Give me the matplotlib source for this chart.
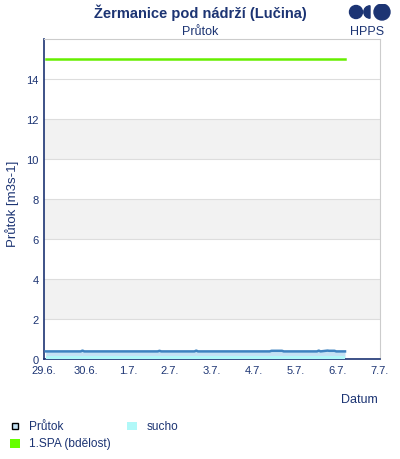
import matplotlib
matplotlib.use("Agg")
import matplotlib.pyplot as plt
import numpy as np
from matplotlib.patches import Circle, Rectangle, Wedge

plt.rcParams['font.family'] = ['Liberation Sans', 'DejaVu Sans']

# hours since 29.6. 00:00
flow_hours = [1, 12, 21, 22, 23, 40, 65, 66, 67, 86, 87, 88, 110, 129, 130, 136, 137, 138, 150, 156, 157, 158, 160, 162, 163, 166, 167, 172]
flow_vals = [0.38, 0.38, 0.38, 0.42, 0.38, 0.38, 0.38, 0.41, 0.38, 0.38, 0.42, 0.38, 0.38, 0.38, 0.41, 0.41, 0.38, 0.38, 0.38, 0.38, 0.42, 0.38, 0.40, 0.42, 0.41, 0.41, 0.38, 0.38]
sucho_level = 0.15
spa1_level = 15.0
x_ticks = ['29.6.', '30.6.', '1.7.', '2.7.', '3.7.', '4.7.', '5.7.', '6.7.', '7.7.']

navy = '#1c3473'
fig = plt.figure(figsize=(4.0, 4.6), dpi=100)
ax = fig.add_axes([44/400, 1-360/460, 336/400, 320/460])

t = np.array(flow_hours) / 24.0
v = np.array(flow_vals)
ax.fill_between(t, 0, v, color='#c4e2f4', lw=0, zorder=2)
ax.fill_between([t[0], t[-1]], 0, sucho_level, color='#b0f8f8', lw=0, zorder=3)
ax.plot(t, v, color='#3d82c0', lw=1.8, zorder=4)
ax.plot([t[0], t[-1]], [spa1_level, spa1_level], color='#66ee00', lw=1.8, zorder=4)

ax.set_xlim(0, 8)
ax.set_ylim(0, 16)
for y0 in [2, 6, 10]:
    ax.axhspan(y0, y0 + 2, color='#f2f2f2', lw=0, zorder=0)
ax.set_yticks(range(0, 15, 2))
ax.set_xticks(range(9))
ax.set_xticklabels(x_ticks)
ax.yaxis.grid(True, color='#dddddd', lw=0.8, zorder=1)
ax.set_axisbelow(True)
ax.tick_params(axis='both', length=0, labelsize=8, colors=navy, pad=4)
for s in ['top', 'right']:
    ax.spines[s].set_color('#cccccc')
    ax.spines[s].set_linewidth(0.8)
for s in ['left', 'bottom']:
    ax.spines[s].set_color(navy)
    ax.spines[s].set_linewidth(1.2)

fig.text(12/400, 1-204/460, 'Průtok [m3s-1]', rotation=90, ha='center', va='center', color=navy, fontsize=9.5)
fig.text(378/400, 1-400/460, 'Datum', ha='right', va='center', color=navy, fontsize=9)
fig.text(200/400, 1-13/460, 'Žermanice pod nádrží (Lučina)', ha='center', va='center', color=navy, fontsize=10.5, fontweight='bold')
fig.text(200/400, 1-32/460, 'Průtok', ha='center', va='center', color=navy, fontsize=9)

# logo
fig.text(367/400, 1-32/460, 'HPPS', ha='center', va='center', color=navy, fontsize=9)
la = fig.add_axes([345/400, 1-25/460, 55/400, 20/460])
la.set_xlim(345, 400); la.set_ylim(25, 5); la.axis('off')
la.add_patch(Circle((356, 13), 6.5, color=navy))
la.add_patch(Wedge((370, 13), 6.2, 90, 270, color=navy))
la.add_patch(Circle((382, 13), 8.0, color=navy))

# legend
lg = fig.add_axes([0, 0, 1, 1]); lg.set_xlim(0, 400); lg.set_ylim(460, 0); lg.axis('off')
lg.add_patch(Rectangle((12, 424), 6, 6, facecolor='#c4e2f4', edgecolor='black', lw=1))
lg.text(29, 427, 'Průtok', color=navy, fontsize=8.6, va='center')
lg.add_patch(Rectangle((127, 423), 10, 8, facecolor='#b0f8f8', edgecolor='none'))
lg.text(147, 427, 'sucho', color=navy, fontsize=8.6, va='center')
lg.add_patch(Rectangle((10, 440), 10, 9, facecolor='#66ff00', edgecolor='none'))
lg.text(29, 444, '1.SPA (bdělost)', color=navy, fontsize=8.6, va='center')

fig.savefig('out.png', dpi=100)
